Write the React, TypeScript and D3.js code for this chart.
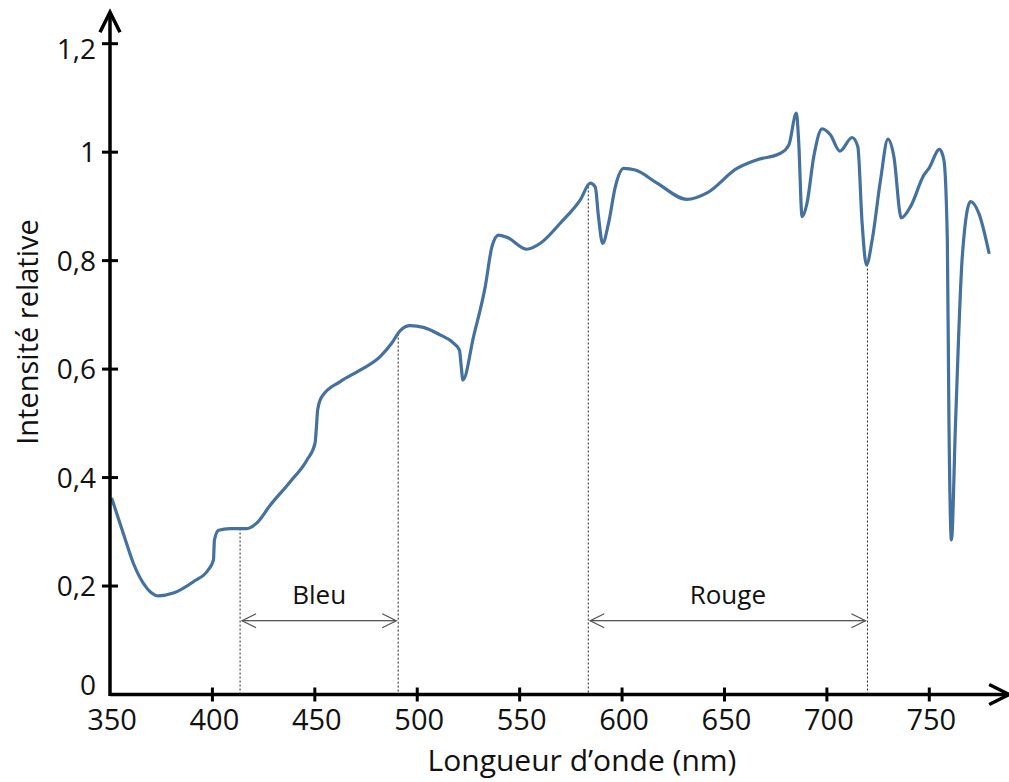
import React from 'react';
import * as d3 from 'd3';

// Spectre (longueur d'onde en nm, intensité relative)
const wavelengths = [
  351, 356.5, 361.4, 366.3, 373.6, 380.9, 390.7, 398, 400.5, 401, 403, 408.6, 416.8, 421.6, 428.2,
  437.9, 446.1, 450.1, 450.8, 451.4, 453.4, 462.4, 472.1, 481.9, 487.6, 491.7, 496.6, 503, 511.2,
  517.7, 520.6, 521.5, 522.3, 527.5, 533.2, 536.5, 539.7, 543.8, 553.5, 560.1, 569.8, 579.6, 584.5,
  586.9, 588.5, 590.5, 593.4, 596.7, 600.8, 606.5, 617.1, 631.7, 641.5, 656.1, 666, 677.3, 681.4,
  685.1, 686.2, 687.9, 690.3, 693.6, 697.7, 701.7, 706.3, 712.3, 715.1, 717.2, 719.3, 722.1, 726.2,
  729.8, 732.7, 736.3, 740.9, 747.4, 749.8, 755, 757.1, 758.8, 759.6, 760.8, 762.8, 766.1, 770.1,
  774.2, 779.1,
];
const intensities = [
  0.36, 0.297, 0.242, 0.205, 0.182, 0.187, 0.208, 0.23, 0.248, 0.285, 0.303, 0.306, 0.306, 0.316, 0.349,
  0.392, 0.432, 0.463, 0.494, 0.525, 0.549, 0.577, 0.598, 0.623, 0.648, 0.671, 0.68, 0.677, 0.663,
  0.648, 0.635, 0.604, 0.58, 0.66, 0.752, 0.826, 0.847, 0.843, 0.821, 0.832, 0.869, 0.912, 0.943,
  0.936, 0.881, 0.832, 0.869, 0.936, 0.97, 0.967, 0.943, 0.913, 0.925, 0.97, 0.986, 0.998, 1.013,
  1.072, 1.022, 0.881, 0.906, 0.992, 1.043, 1.032, 1.002, 1.027, 1.01, 0.869, 0.792, 0.838, 0.949,
  1.024, 0.992, 0.879, 0.9, 0.958, 0.97, 1.005, 0.986, 0.838, 0.5, 0.285, 0.5, 0.807, 0.909,
  0.887, 0.815,
];

const xTicks = [350, 400, 450, 500, 550, 600, 650, 700, 750];
const yTicks = [0, 0.2, 0.4, 0.6, 0.8, 1, 1.2];

// Domaines colorés : nom, début, fin (nm)
const bandNames = ['Bleu', 'Rouge'];
const bandStart = [413.5, 583.5];
const bandEnd = [490.7, 719.8];

const W = 1009;
const H = 782;
const FONT = "'Open Sans', sans-serif";
const LINE = '#44719d';

const App = () => {
  const x = d3.scaleLinear().domain([350, 750]).range([110, 929.3]);
  const y = d3.scaleLinear().domain([0, 1.2]).range([694.5, 43.7]);

  const data = wavelengths.map((w, i) => ({ w, v: intensities[i] }));

  const line = d3.line<{ w: number; v: number }>()
    .x(d => x(d.w))
    .y(d => y(d.v))
    .curve(d3.curveMonotoneX);

  // intensité interpolée pour le haut des pointillés
  const valueAt = (w: number) => {
    const i = d3.bisector((d: { w: number }) => d.w).left(data, w);
    const a = data[Math.max(0, i - 1)];
    const b = data[Math.min(data.length - 1, i)];
    if (a.w === b.w) return a.v;
    return a.v + (b.v - a.v) * (w - a.w) / (b.w - a.w);
  };

  const x0 = x(350);
  const y0 = y(0);
  const xEnd = x(789);
  const yTop = y(1.258);
  const arrowY = y(0.136);
  const labelY = y(0.167);

  const chevron = (px: number, py: number, dir: string, s: number) => {
    if (dir === 'up') return `M${px - s},${py + s * 2} L${px},${py} L${px + s},${py + s * 2}`;
    if (dir === 'right') return `M${px - s * 2},${py - s} L${px},${py} L${px - s * 2},${py + s}`;
    return `M${px + s * 2},${py - s} L${px},${py} L${px + s * 2},${py + s}`;
  };

  return (
    <svg width={W} height={H} style={{ position: 'absolute', left: 0, top: 0, background: '#fff' }}>
      {/* pointillés verticaux */}
      {bandNames.map((name, i) => (
        <g key={name}>
          {[bandStart[i], bandEnd[i]].map(w => (
            <line key={w} x1={x(w)} x2={x(w)} y1={y(valueAt(w))} y2={y0}
              stroke="#222" strokeWidth={1} strokeDasharray="2,2" />
          ))}
          <line x1={x(bandStart[i]) + 2} x2={x(bandEnd[i]) - 2} y1={arrowY} y2={arrowY}
            stroke="#222" strokeWidth={1.2} />
          <path d={chevron(x(bandStart[i]) + 2, arrowY, 'left', 7)} fill="none" stroke="#555" strokeWidth={1.3} />
          <path d={chevron(x(bandEnd[i]) - 2, arrowY, 'right', 7)} fill="none" stroke="#555" strokeWidth={1.3} />
          <text x={(x(bandStart[i]) + x(bandEnd[i])) / 2} y={labelY} textAnchor="middle"
            fontFamily={FONT} fontSize={26} fill="#111">{name}</text>
        </g>
      ))}

      {/* courbe */}
      <path d={line(data) || ''} fill="none" stroke={LINE} strokeWidth={3.2}
        strokeLinejoin="round" strokeLinecap="round" />

      {/* axes */}
      <line x1={x0} x2={xEnd} y1={y0} y2={y0} stroke="#000" strokeWidth={3.5} />
      <line x1={x0} x2={x0} y1={y0 + 1.5} y2={yTop} stroke="#000" strokeWidth={3.5} />
      <path d={chevron(xEnd, y0, 'right', 10)} fill="none" stroke="#000" strokeWidth={3.5} />
      <path d={chevron(x0, yTop, 'up', 10)} fill="none" stroke="#000" strokeWidth={3.5} />

      {xTicks.map(t => (
        <g key={t}>
          {t !== 350 && <line x1={x(t)} x2={x(t)} y1={y0 - 7} y2={y0 + 7} stroke="#000" strokeWidth={3} />}
          <text x={x(t) + 2} y={y0 + 35} textAnchor="middle" fontFamily={FONT} fontSize={29} fill="#111">{t}</text>
        </g>
      ))}
      {yTicks.map(t => (
        <g key={t}>
          {t !== 0 && <line x1={x0 - 8} x2={x0 + 8} y1={y(t)} y2={y(t)} stroke="#000" strokeWidth={3} />}
          <text x={x0 - 14} y={y(t) + (t === 0 ? 0 : t === 1.2 ? 15 : 10)} textAnchor="end" fontFamily={FONT} fontSize={28} fill="#111">
            {d3.format('.1f')(t).replace('.', ',').replace(/,0$/, '')}
          </text>
        </g>
      ))}

      <text x={582} y={771} textAnchor="middle" fontFamily={FONT} fontSize={30} fill="#111">
        Longueur d’onde (nm)
      </text>
      <text transform={`translate(38,${332}) rotate(-90)`} textAnchor="middle" fontFamily={FONT}
        fontSize={29} fill="#111">
        Intensité relative
      </text>
    </svg>
  );
};

export default App;
